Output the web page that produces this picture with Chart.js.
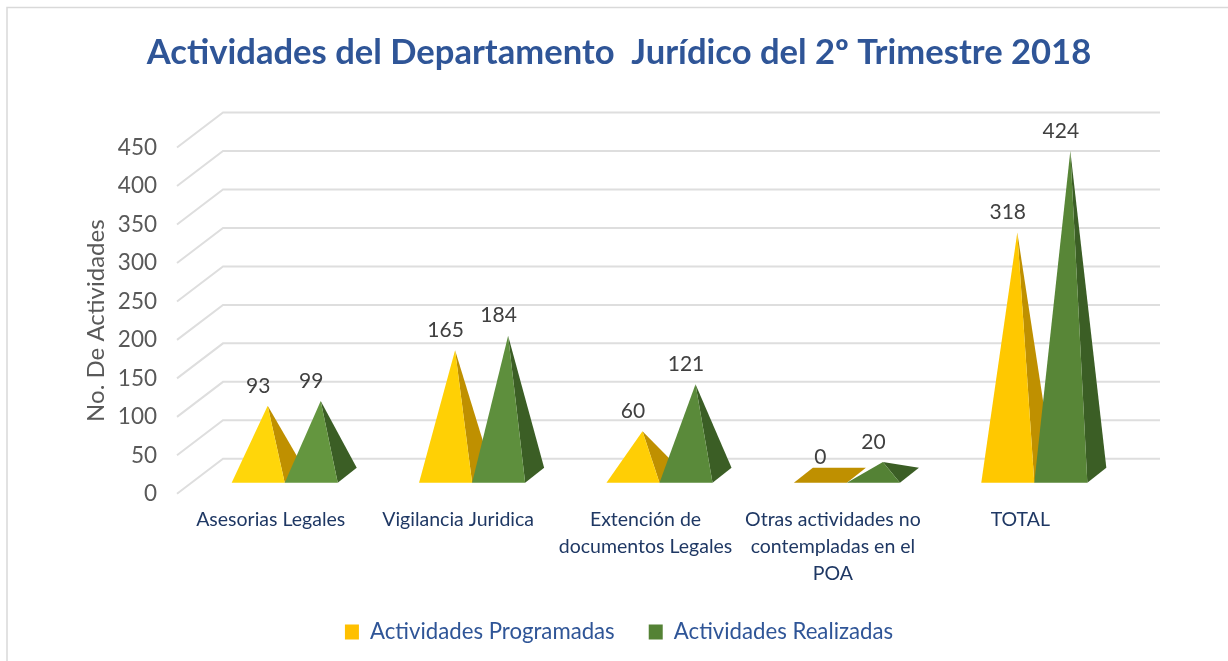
<!doctype html>
<html lang="es">
<head>
<meta charset="utf-8">
<title>Actividades del Departamento Jurídico</title>
<style>
  html, body { margin: 0; padding: 0; background: #fff; }
  #wrap { position: relative; width: 1228px; height: 661px; }
</style>
</head>
<body>
<div id="wrap"><canvas id="chart"></canvas></div>
<script src="https://cdn.jsdelivr.net/npm/chart.js"></script>
<script>
const categories = [
  ['Asesorias Legales'],
  ['Vigilancia Juridica'],
  ['Extención de', 'documentos Legales'],
  ['Otras actividades no', 'contempladas en el', 'POA'],
  ['TOTAL']
]
const programadas = [93, 165, 60, 0, 318]
const realizadas = [99, 184, 121, 20, 424]
const yTicks = [0, 50, 100, 150, 200, 250, 300, 350, 400, 450]

const chartTitle = 'Actividades del Departamento  Jurídico del 2º Trimestre 2018'
const yTitle = 'No. De Actividades'

// front / side colours of the faces
const yellowFront = ['#FFD60A', '#FFD005', '#FFCE05', '#FFC000', '#FFC800']
const yellowSide = '#BF9000'
const greenFront = ['#64963F', '#5E8F3D', '#5A8A3A', '#548235', '#588637']
const greenSide = '#3B5E25'

// fake 3d: floor depth and where the pyramids sit on it
const WALL_X = 46
const WALL_Y = 35
const BASE_X = 14
const BASE_Y = 11
const DEPTH_X = 19
const DEPTH_Y = 15

const walls = {
  id: 'walls',
  beforeDatasetsDraw(chart) {
    const { ctx, scales: { y }, chartArea, width, height } = chart
    ctx.save()
    // outer frame of the picture, open on the right
    ctx.strokeStyle = '#d9d9d9'
    ctx.lineWidth = 1.5
    ctx.beginPath()
    ctx.moveTo(7, height)
    ctx.lineTo(7, 7.5)
    ctx.lineTo(width, 7.5)
    ctx.stroke()
    // grid lines, along the side wall and then the back wall
    ctx.strokeStyle = '#dedede'
    ctx.lineWidth = 2
    yTicks.forEach((tick) => {
      const py = y.getPixelForValue(tick)
      ctx.beginPath()
      ctx.moveTo(chartArea.left, py)
      ctx.lineTo(chartArea.left + WALL_X, py - WALL_Y)
      ctx.lineTo(chartArea.right + WALL_X, py - WALL_Y)
      ctx.stroke()
    })
    ctx.restore()
  }
}

function face(ctx, color, points) {
  ctx.fillStyle = color
  ctx.beginPath()
  points.forEach(([px, py], i) => (i ? ctx.lineTo(px, py) : ctx.moveTo(px, py)))
  ctx.closePath()
  ctx.fill()
}

const pyramids = {
  id: 'pyramids',
  // the bars only give the positions, the pyramids replace them
  beforeDatasetDraw() {
    return false
  },
  afterDatasetsDraw(chart) {
    const { ctx } = chart
    chart.data.datasets.forEach((dataset, d) => {
      chart.getDatasetMeta(d).data.forEach((bar, i) => {
        const half = bar.width / 2
        const baseY = bar.base - BASE_Y
        const left = bar.x - half + BASE_X
        const right = bar.x + half + BASE_X
        const apex = [bar.x + BASE_X + DEPTH_X / 2, bar.y - BASE_Y - DEPTH_Y / 2 + 2]
        if (dataset.data[i] === 0) {
          face(ctx, dataset.sideColor, [
            [left, baseY], [right, baseY],
            [right + DEPTH_X, baseY - DEPTH_Y], [left + DEPTH_X, baseY - DEPTH_Y]
          ])
        } else {
          face(ctx, dataset.sideColor, [[right, baseY], [right + DEPTH_X, baseY - DEPTH_Y], apex])
          face(ctx, dataset.faceColors[i], [[left, baseY], [right, baseY], apex])
        }
      })
    })
    // value labels
    ctx.save()
    ctx.fillStyle = '#404040'
    ctx.font = '21px Lato'
    ctx.textAlign = 'center'
    ctx.textBaseline = 'middle'
    chart.data.datasets.forEach((dataset, d) => {
      chart.getDatasetMeta(d).data.forEach((bar, i) => {
        ctx.fillText(dataset.data[i], bar.x + BASE_X, bar.y - BASE_Y - DEPTH_Y / 2 - 18)
      })
    })
    ctx.restore()
  }
}

new Chart(document.getElementById('chart'), {
  type: 'bar',
  data: {
    labels: categories,
    datasets: [
      {
        label: 'Actividades Programadas',
        data: programadas,
        backgroundColor: '#FFC000',
        faceColors: yellowFront,
        sideColor: yellowSide
      },
      {
        label: 'Actividades Realizadas',
        data: realizadas,
        backgroundColor: '#548235',
        faceColors: greenFront,
        sideColor: greenSide
      }
    ]
  },
  options: {
    responsive: true,
    maintainAspectRatio: false,
    animation: false,
    categoryPercentage: 0.566,
    barPercentage: 1,
    layout: { padding: { left: 10, bottom: 8 } },
    scales: {
      x: {
        grid: { display: false },
        border: { display: false },
        ticks: {
          color: '#1F3864',
          font: { family: 'Lato', size: 19.5, lineHeight: 1.4 },
          padding: 4,
          maxRotation: 0,
          autoSkip: false
        },
        afterFit(scale) {
          scale.height = 93
        }
      },
      y: {
        min: 0,
        max: 450,
        grid: { display: false },
        border: { display: false },
        ticks: {
          stepSize: 50,
          color: '#595959',
          font: { family: 'Lato', size: 22.5 },
          padding: 12
        },
        title: {
          display: true,
          text: yTitle,
          color: '#595959',
          font: { family: 'Lato', size: 24 },
          padding: { top: 72 }
        },
        afterFit(scale) {
          scale.width = 167
        }
      },
      // empty axis, only keeps the plot clear of the right side without moving the title
      spacer: {
        type: 'linear',
        position: 'right',
        grid: { display: false },
        border: { display: false },
        ticks: { display: false },
        afterFit(scale) {
          scale.width = 114
        }
      }
    },
    plugins: {
      title: {
        display: true,
        text: chartTitle,
        color: '#2F5597',
        font: { family: 'Lato', size: 34.6, weight: 'bold' },
        padding: { top: 32, bottom: 74 }
      },
      legend: {
        position: 'bottom',
        labels: {
          color: '#2F5597',
          font: { family: 'Lato', size: 22.2 },
          boxWidth: 14,
          boxHeight: 15,
          padding: 34
        }
      },
      tooltip: { enabled: false }
    }
  },
  plugins: [walls, pyramids]
})
</script>
</body>
</html>
